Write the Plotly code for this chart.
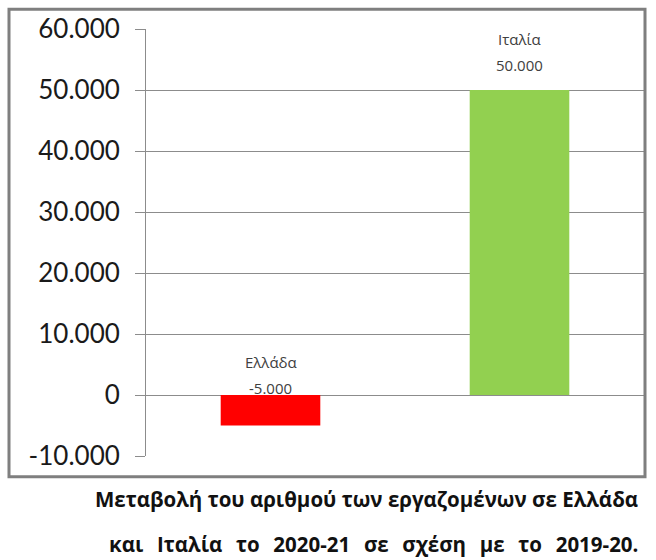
import plotly.graph_objects as go

# Δεδομένα
countries = ["Ελλάδα", "Ιταλία"]
change = [-5000, 50000]
bar_colors = ["#FF0000", "#92D050"]
tick_vals = [-10000, 0, 10000, 20000, 30000, 40000, 50000, 60000]
tick_text = ["-10.000", "0", "10.000", "20.000", "30.000", "40.000", "50.000", "60.000"]
caption = [
    "Μεταβολή του αριθμού των εργαζομένων σε Ελλάδα",
    "και Ιταλία το 2020-21 σε σχέση με το 2019-20.",
]

W, H = 656, 560
L, R, T, B = 146, 12, 24, 104
pw, ph = W - L - R, H - T - B


def px_x(p):
    return (p - L) / pw


def px_y(p):
    return (H - B - p) / ph


def fmt(v):
    return f"{v:,}".replace(",", ".")


fig = go.Figure()
fig.add_trace(go.Bar(
    x=countries,
    y=change,
    marker=dict(color=bar_colors, line=dict(width=0)),
    hoverinfo="skip",
))

# ετικέτες πάνω από τις μπάρες (όνομα και τιμή σε χωριστές γραμμές)
lbl_font = dict(family="Open Sans", size=15, color="#404040")
for c, v in zip(countries, change):
    base = 25 if v > 0 else 7
    fig.add_annotation(x=c, y=max(v, 0), text=fmt(v), showarrow=False,
                       yanchor="middle", yshift=base, font=lbl_font)
    fig.add_annotation(x=c, y=max(v, 0), text=c, showarrow=False,
                       yanchor="middle", yshift=base + 26, font=lbl_font)

# λεζάντα (η δεύτερη γραμμή στοιχισμένη με φαρδύτερα κενά)
cap_lines = [caption[0], caption[1].replace(" ", "\u2002\u2009")]
for i, line in enumerate(cap_lines):
    fig.add_annotation(
        x=px_x(640), y=px_y(500 + 45 * i), xref="paper", yref="paper",
        text=f"<b>{line}</b>", showarrow=False,
        xanchor="right", yanchor="middle",
        font=dict(family="Open Sans", size=20.5, color="#111111"),
    )

# πλαίσιο γραφήματος
fig.add_shape(
    type="rect", xref="paper", yref="paper",
    x0=px_x(9), x1=px_x(645), y0=px_y(477), y1=px_y(4),
    line=dict(color="#7f7f7f", width=3),
)

fig.update_layout(
    width=W, height=H,
    margin=dict(l=L, r=R, t=T, b=B),
    paper_bgcolor="white", plot_bgcolor="white",
    showlegend=False, bargap=0.6,
)
fig.update_xaxes(showticklabels=False, showgrid=False, ticks="", showline=False)
fig.update_yaxes(
    range=[-10000, 60000], tickvals=tick_vals, ticktext=tick_text,
    showgrid=True, gridcolor="#8c8c8c", gridwidth=1,
    zeroline=True, zerolinecolor="#8c8c8c", zerolinewidth=1,
    showline=True, linecolor="#8c8c8c", linewidth=1,
    ticks="outside", ticklen=10, tickcolor="#8c8c8c",
    ticklabelstandoff=10,
    tickfont=dict(family="Lato", size=26, color="#1a1a1a"),
)

fig.write_html("out.html", config={"displayModeBar": False},
               post_script="document.body.style.margin='0';")
